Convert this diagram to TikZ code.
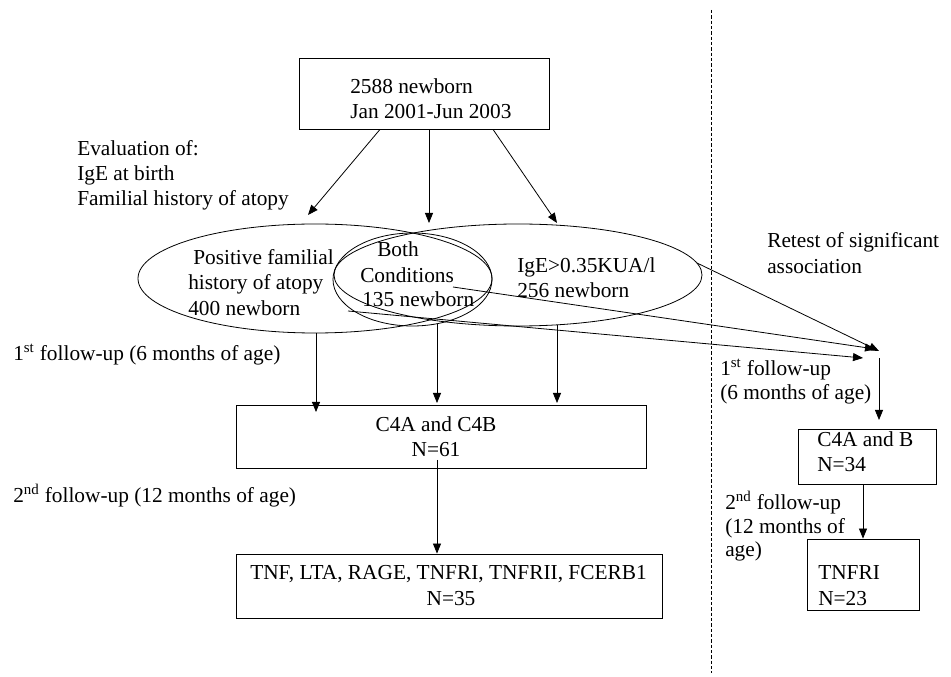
\documentclass[tikz,border=0pt]{standalone}
\usepackage{fontspec}
\setmainfont{Liberation Serif}
\usetikzlibrary{shapes.geometric,arrows.meta}
\tikzset{
  txt/.style={anchor=base west,inner sep=0pt,font=\fontsize{16}{18}\selectfont},
  ctxt/.style={anchor=base,inner sep=0pt,font=\fontsize{16}{18}\selectfont},
  boxnode/.style={draw,rectangle,inner sep=0pt,line width=0.6pt},
  ellnode/.style={draw,ellipse,inner sep=0pt,line width=0.6pt},
  arr/.style={line width=0.6pt,-{Triangle[length=7.5pt,width=6pt]}},
  divider/.style={line width=0.5pt,dash pattern=on 2.5pt off 1.5pt}
}
\begin{document}
\begin{tikzpicture}[x=0.75pt,y=-0.75pt]
\useasboundingbox (0,0) rectangle (951,677);

% boxes and ellipses
\node[boxnode,minimum width=187.5pt,minimum height=53.25pt] (top) at (424,93.5) {};
\node[ellnode,minimum width=265.5pt,minimum height=81.75pt] (fam) at (315,278.5) {};
\node[ellnode,minimum width=119.25pt,minimum height=69.75pt] (both) at (412.5,279.5) {};
\node[ellnode,minimum width=276pt,minimum height=76.5pt] (ige) at (518,275) {};
\node[boxnode,minimum width=307.5pt,minimum height=47.25pt] (c4) at (441,436.5) {};
\node[boxnode,minimum width=319.5pt,minimum height=48pt] (tnf) at (449,586) {};
\node[boxnode,minimum width=103.5pt,minimum height=41.25pt] (c4r) at (867,456.5) {};
\node[boxnode,minimum width=84pt,minimum height=53.25pt] (tnfr) at (863,574.5) {};

% divider
\coordinate (dtop) at (711,10);
\coordinate (dbot) at (711,673);
\draw[divider] (dtop) -- (dbot);

% texts
\node[txt] (t1) at (350,94) {2588 newborn};
\node[txt] (t2) at (350,119) {Jan 2001-Jun 2003};
\node[txt] (ev1) at (77,156) {Evaluation of:};
\node[txt] (ev2) at (77,181) {IgE at birth};
\node[txt] (ev3) at (77,206) {Familial history of atopy};
\node[txt] (p1) at (193,265) {Positive familial};
\node[txt] (p2) at (188,290) {history of atopy};
\node[txt] (p3) at (188,316) {400 newborn};
\node[txt] (b1) at (377,257) {Both};
\node[txt] (b2) at (360,283) {Conditions};
\node[txt] (b3) at (362,307) {135 newborn};
\node[txt] (i1) at (517,273) {IgE>0.35KUA/l};
\node[txt] (i2) at (517,298) {256 newborn};
\node[txt] (r1) at (767,248) {Retest of significant};
\node[txt] (r2) at (767,274) {association};
\node[txt] (f1) at (13,361) {1\textsuperscript{st} follow-up (6 months of age)};
\node[txt] (f2) at (13,503) {2\textsuperscript{nd} follow-up (12 months of age)};
\node[ctxt] (c41) at (436,432) {C4A and C4B};
\node[ctxt] (c42) at (436,457) {N=61};
\node[txt] (tn1) at (250,580) {TNF, LTA, RAGE, TNFRI, TNFRII, FCERB1};
\node[ctxt] (tn2) at (451,605) {N=35};
\node[txt] (rf1) at (720,376) {1\textsuperscript{st} follow-up};
\node[txt] (rf2) at (720,400) {(6 months of age)};
\node[txt] (cr1) at (817,447) {C4A and B};
\node[txt] (cr2) at (817,472) {N=34};
\node[txt] (rs1) at (725,510) {2\textsuperscript{nd} follow-up};
\node[txt] (rs2) at (725,534) {(12 months of};
\node[txt] (rs3) at (725,557) {age)};
\node[txt] (tr1) at (818,580) {TNFRI};
\node[txt] (tr2) at (818,605) {N=23};

% connector end points
\coordinate (tipL) at (308,215);
\coordinate (tipM) at (429,223);
\coordinate (tipR) at (557,223);
\coordinate (conv1) at (879,351);
\coordinate (conv2) at (875,349);
\coordinate (conv3) at (863,358);
\coordinate (rvs) at (879,358);
\coordinate (rvt) at (879,420);
\coordinate (c4l) at (316,412);
\coordinate (c4m) at (437,403);
\coordinate (c4rr) at (557,403);

% connectors from top box
\draw[arr] (top.south -| 380,0) -- (tipL);
\draw[arr] (top.south -| tipM) -- (tipM);
\draw[arr] (top.south -| 493,0) -- (tipR);

% retest lines
\draw[arr] (697,263) -- (conv1);
\draw[arr] (453,287) -- (conv2);
\draw[arr] (348,311) -- (conv3);
\draw[arr] (rvs) -- (rvt);

% to C4A and C4B
\draw[arr] (fam.south -| c4l) -- (c4l);
\draw[arr] (437,324) -- (c4m);
\draw[arr] (557,325) -- (c4rr);
\draw[arr] (437,460) -- (tnf.north -| 437,0);

% right column
\draw[arr] (c4r.south -| tnfr) -- (tnfr.north);
\end{tikzpicture}
\end{document}
